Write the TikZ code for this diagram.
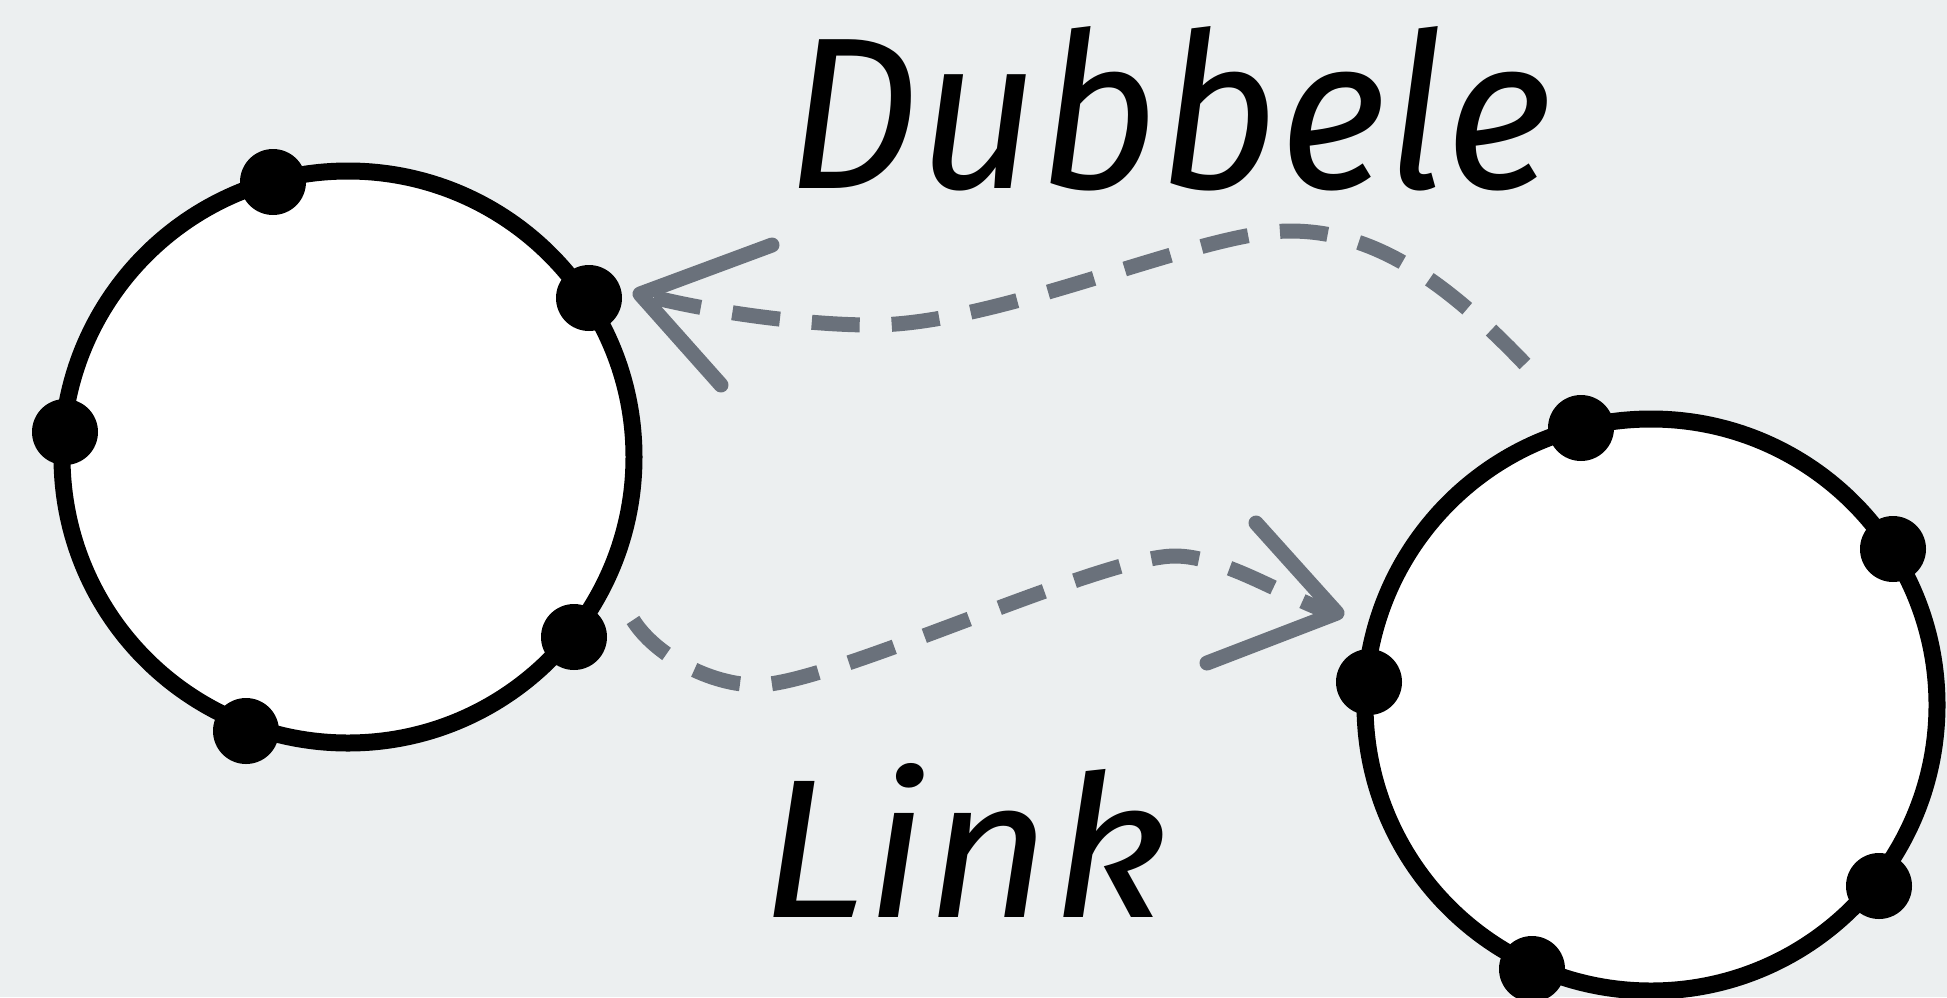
\documentclass[tikz,border=0pt]{standalone}
\usepackage{fontspec}
\newfontfamily\handfont{Fira Sans}
\usepackage{graphicx}
\definecolor{bgc}{HTML}{ECEFF0}
\definecolor{arrowgray}{HTML}{6A717B}
\begin{document}
\begin{tikzpicture}[x=1pt,y=-1pt,
  ring/.style={circle,draw=black,line width=17pt,fill=white,minimum size=572pt,inner sep=0pt},
  dot/.style={circle,fill=black,minimum size=66pt,inner sep=0pt},
  flow/.style={draw=arrowgray,line width=15pt,dash pattern=on 48pt off 32pt},
  headline/.style={draw=arrowgray,line width=15pt,line cap=round,line join=round},
  label/.style={anchor=base west,inner sep=0pt,text=black}]
\useasboundingbox (0,0) rectangle (1947,997);
\fill[bgc] (0,0) rectangle (1947,997);
% circles
\node[ring] (lc) at (348,457) {};
\node[ring] (rc) at (1651,705) {};
% dots on left circle
\node[dot] (l1) at (273,182) {};
\node[dot] (l2) at (589,298) {};
\node[dot] (l3) at (65,432) {};
\node[dot] (l4) at (574,637) {};
\node[dot] (l5) at (246,731) {};
% dots on right circle
\node[dot] (r1) at (1581,428) {};
\node[dot] (r2) at (1893,549) {};
\node[dot] (r3) at (1369,682) {};
\node[dot] (r4) at (1879,886) {};
\node[dot] (r5) at (1532,969) {};
% labels
\node[label] (dub) at (786,188) {\resizebox{766pt}{162pt}{\handfont\itshape Dubbele}};
\node[label] (lnk) at (760,917) {\resizebox{408pt}{154pt}{\handfont\itshape Link}};
% top dashed arrow
\coordinate (a1s) at (1525,364);
\coordinate (a1m) at (1290,231);
\coordinate (a1n) at (872,325);
\coordinate (a1e) at (645,295);
\coordinate (a1t) at (640,294);
\coordinate (a1u) at (772,245);
\coordinate (a1l) at (721,385);
\draw[flow] (a1s) .. controls (1440,275) and (1370,231) .. (a1m)
  .. controls (1200,231) and (1000,325) .. (a1n)
  .. controls (800,325) and (700,310) .. (a1e);
\draw[headline] (a1u) -- (a1t) -- (a1l);
% bottom dashed arrow
\coordinate (a2s) at (633,620);
\coordinate (a2m) at (757,685);
\coordinate (a2n) at (1175,556);
\coordinate (a2e) at (1330,612);
\coordinate (a2t) at (1337,613);
\coordinate (a2u) at (1256,523);
\coordinate (a2l) at (1207,663);
\draw[flow] (a2s) .. controls (655,655) and (710,685) .. (a2m)
  .. controls (830,685) and (1100,556) .. (a2n)
  .. controls (1225,556) and (1290,600) .. (a2e);
\draw[headline] (a2u) -- (a2t) -- (a2l);
\end{tikzpicture}
\end{document}
